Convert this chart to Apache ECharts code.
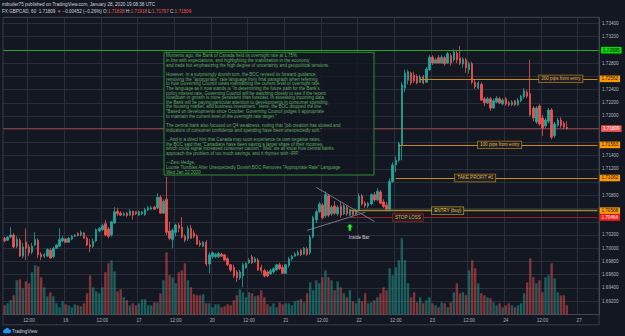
<!DOCTYPE html>
<html><head><meta charset="utf-8">
<script src="https://cdn.jsdelivr.net/npm/echarts/dist/echarts.min.js"></script>
<style>html,body{margin:0;padding:0;background:#131722;}#c{width:625px;height:336px;}</style>
</head><body><div id="c"></div>
<script>
// ---- time slots (hourly, weekend removed) ----
const days = ['15','16','17','20','21','22','23','24','27'];
const firstHour = 4;
const slotCount = 195;

// ---- GBPCAD 1h candles ----
const open = [1.7015,1.7012,1.7017,1.7020,1.7003,1.7012,1.6988,1.7009,1.7002,1.6994,1.7005,1.7012,1.6991,1.6988,1.6988,1.6997,1.6987,1.7000,1.7003,1.7011,1.7014,1.7009,1.7014,1.7018,1.7022,1.7020,1.7023,1.7015,1.7005,1.7003,1.7011,1.7026,1.7028,1.7037,1.7029,1.7020,1.7038,1.7056,1.7053,1.7050,1.7053,1.7050,1.7056,1.7055,1.7050,1.7052,1.7051,1.7058,1.7059,1.7062,1.7061,1.7077,
1.7053,1.7074,1.7026,1.7013,1.7024,1.7035,1.7032,1.7018,1.7014,1.7030,1.7023,1.7018,1.7008,1.7003,1.7009,1.6976,1.6987,1.6987,1.6987,1.6991,1.6990,1.6984,1.6975,1.6971,1.6964,1.6955,1.6958,1.6970,1.6978,1.6987,1.6979,1.6982,1.6971,1.6966,1.6964,1.6961,1.6964,1.6967,1.6975,1.6971,1.6962,1.6974,1.6984,1.6988,1.6990,1.6997,1.6991,1.6999,1.6993,
1.7017,1.7043,1.7055,1.7065,1.7049,1.7079,1.7052,1.7064,1.7052,1.7064,1.7052,1.7062,1.7050,1.7056,1.7052,1.7058,1.7079,1.7068,1.7064,1.7067,1.7081,1.7073,1.7085,1.7070,1.7065,1.7059,1.7101,1.7126,1.7133,1.7156,1.7242,1.7254,1.7265,1.7262,1.7260,1.7251,1.7259,1.7251,1.7270,1.7289,1.7280,1.7288,1.7280,1.7288,1.7280,1.7291,
1.7285,1.7295,1.7288,1.7279,1.7285,1.7270,1.7279,1.7251,1.7242,1.7248,1.7226,1.7220,1.7226,1.7212,1.7221,1.7226,1.7218,1.7226,1.7220,1.7217,1.7223,1.7217,1.7223,1.7229,1.7236,1.7234,1.7212,1.7191,1.7215,1.7197,1.7185,1.7192,1.7209,1.7170,1.7186,1.7194,1.7189,1.71828];
const close = [1.7011,1.7017,1.7020,1.7002,1.7013,1.6988,1.7002,1.7000,1.6993,1.7003,1.7013,1.6990,1.6987,1.6990,1.6998,1.6985,1.7000,1.7005,1.7013,1.7015,1.7009,1.7015,1.7018,1.7020,1.7019,1.7024,1.7015,1.7005,1.7002,1.7011,1.7028,1.7030,1.7034,1.7020,1.7018,1.7040,1.7055,1.7052,1.7050,1.7052,1.7049,1.7056,1.7050,1.7052,1.7055,1.7055,1.7058,1.7061,1.7061,1.7059,1.7077,1.7053,
1.7071,1.7024,1.7015,1.7027,1.7035,1.7030,1.7017,1.7012,1.7030,1.7015,1.7018,1.7006,1.7005,1.7009,1.6976,1.6990,1.6993,1.6991,1.6992,1.6988,1.6982,1.6975,1.6967,1.6958,1.6955,1.6964,1.6975,1.6977,1.6982,1.6978,1.6984,1.6967,1.6966,1.6958,1.6958,1.6966,1.6969,1.6975,1.6969,1.6962,1.6975,1.6984,1.6988,1.6991,1.6994,1.6990,1.7000,1.6991,1.7017,
1.7046,1.7055,1.7067,1.7046,1.7081,1.7050,1.7062,1.7053,1.7062,1.7050,1.7064,1.7052,1.7058,1.7051,1.7057,1.7079,1.7067,1.7064,1.7068,1.7081,1.7073,1.7086,1.7068,1.7063,1.7059,1.7101,1.7126,1.7133,1.7158,1.7247,1.7265,1.7267,1.7250,1.7253,1.7250,1.7259,1.7250,1.7271,1.7289,1.7280,1.7285,1.7280,1.7289,1.7279,1.7294,1.7280,
1.7297,1.7285,1.7280,1.7286,1.7273,1.7279,1.7251,1.7244,1.7250,1.7224,1.7220,1.7226,1.7212,1.7223,1.7227,1.7220,1.7224,1.7218,1.7217,1.7221,1.7217,1.7224,1.7230,1.7238,1.7230,1.7202,1.7197,1.7212,1.7188,1.7182,1.7194,1.7209,1.7168,1.7188,1.7194,1.7185,1.7183,1.71809];
const high = [1.7017,1.7018,1.7032,1.7023,1.7018,1.7015,1.7008,1.7030,1.7006,1.7008,1.7024,1.7015,1.6994,1.6993,1.7000,1.7000,1.7002,1.7006,1.7030,1.7018,1.7015,1.7017,1.7020,1.7021,1.7024,1.7027,1.7024,1.7018,1.7014,1.7015,1.7030,1.7032,1.7037,1.7043,1.7032,1.7041,1.7062,1.7061,1.7056,1.7055,1.7055,1.7059,1.7057,1.7056,1.7057,1.7056,1.7061,1.7064,1.7064,1.7064,1.7083,1.7080,
1.7074,1.7108,1.7040,1.7030,1.7037,1.7038,1.7047,1.7021,1.7034,1.7035,1.7027,1.7021,1.7012,1.7011,1.7012,1.6994,1.6995,1.6993,1.6994,1.6993,1.6991,1.6987,1.6976,1.6975,1.6967,1.6967,1.6978,1.6979,1.6985,1.6990,1.6987,1.6985,1.6975,1.6969,1.6967,1.6969,1.6971,1.6976,1.6978,1.6975,1.6976,1.6987,1.6990,1.6994,1.6997,1.6999,1.7002,1.7002,1.7020,
1.7049,1.7058,1.7070,1.7068,1.7086,1.7082,1.7065,1.7071,1.7065,1.7070,1.7067,1.7065,1.7059,1.7058,1.7059,1.7083,1.7082,1.7071,1.7070,1.7083,1.7085,1.7091,1.7088,1.7074,1.7070,1.7106,1.7130,1.7139,1.7161,1.7251,1.7270,1.7270,1.7267,1.7267,1.7263,1.7262,1.7262,1.7274,1.7292,1.7292,1.7288,1.7292,1.7292,1.7291,1.7297,1.7295,
1.7301,1.7300,1.7306,1.7289,1.7288,1.7282,1.7282,1.7255,1.7253,1.7251,1.7229,1.7229,1.7229,1.7226,1.7230,1.7229,1.7227,1.7229,1.7223,1.7224,1.7224,1.7227,1.7232,1.7242,1.7239,1.7285,1.7215,1.7215,1.7218,1.7202,1.7197,1.7212,1.7212,1.7191,1.7197,1.7198,1.7192,1.71918];
const low = [1.7009,1.7011,1.7015,1.7000,1.7000,1.6987,1.6985,1.6982,1.6988,1.6991,1.7003,1.6985,1.6982,1.6985,1.6987,1.6984,1.6985,1.6999,1.7002,1.7009,1.7008,1.7008,1.7012,1.7017,1.7018,1.7018,1.7014,1.7003,1.6994,1.7000,1.7009,1.7024,1.7026,1.7018,1.7015,1.7017,1.7037,1.7049,1.7049,1.7049,1.7047,1.7049,1.7043,1.7050,1.7049,1.7050,1.7049,1.7056,1.7058,1.7058,1.7059,1.7052,
1.7052,1.7020,1.7012,1.7000,1.7018,1.7024,1.7015,1.7009,1.7011,1.7014,1.7015,1.7005,1.7002,1.7002,1.6973,1.6962,1.6984,1.6985,1.6985,1.6987,1.6981,1.6973,1.6964,1.6955,1.6949,1.6952,1.6941,1.6969,1.6976,1.6976,1.6978,1.6966,1.6962,1.6956,1.6956,1.6960,1.6962,1.6966,1.6967,1.6961,1.6961,1.6971,1.6981,1.6987,1.6988,1.6988,1.6990,1.6988,1.6990,
1.7015,1.7038,1.7053,1.7044,1.7046,1.7047,1.7049,1.7050,1.7049,1.7046,1.7050,1.7049,1.7049,1.7049,1.7050,1.7056,1.7064,1.7061,1.7061,1.7065,1.7070,1.7071,1.7067,1.7061,1.7056,1.7056,1.7099,1.7115,1.7130,1.7133,1.7236,1.7248,1.7247,1.7250,1.7248,1.7250,1.7248,1.7250,1.7268,1.7277,1.7279,1.7279,1.7279,1.7276,1.7279,1.7276,
1.7282,1.7280,1.7277,1.7273,1.7265,1.7264,1.7248,1.7241,1.7241,1.7223,1.7215,1.7218,1.7208,1.7211,1.7220,1.7218,1.7217,1.7215,1.7214,1.7215,1.7215,1.7215,1.7221,1.7226,1.7227,1.7199,1.7192,1.7188,1.7185,1.7170,1.7182,1.7189,1.7165,1.7167,1.7183,1.7182,1.7180,1.71797];
const volume = [9,11,14,19,34,35,26,33,31,42,49,48,37,27,18,22,18,11,7,13,10,9,7,10,9,8,11,21,39,27,23,21,27,42,51,54,43,23,25,17,14,9,11,9,11,15,15,9,9,12,12,21,
34,62,39,37,31,42,44,51,34,27,20,19,19,20,11,11,7,10,10,7,8,10,9,14,19,25,22,17,22,21,18,19,24,17,10,8,11,7,12,10,11,11,9,13,14,15,12,21,32,
24,34,31,37,44,37,34,24,33,27,21,17,24,13,11,16,13,21,11,12,14,17,21,27,24,46,39,47,54,76,54,31,17,22,12,17,11,14,17,11,9,7,12,11,7,12,
22,31,21,22,19,44,54,46,31,21,19,17,16,12,9,11,7,9,11,9,7,9,11,21,32,56,37,31,34,22,37,39,51,36,22,19,19,9];

// ---- price scale ----
const priceMin = 1.690, priceMax = 1.73493, priceStep = 0.002;
const volumeMax = 297;

// ---- drawn levels ----
const greenLevel = 1.72995;
const target200 = 1.72562;
const target100 = 1.71563;
const takeProfit = 1.71062;
const entryPrice = 1.70568;
const stopLoss = 1.70464;
const lastPrice = 1.71809;
const dayChange = -0.00452;
const dayChangePct = -0.26;

const quoteLines = [
'Moments ago, the Bank of Canada held its overnight rate at 1.75%,',
'in line with expectations, and highlighting the stabilization in the economy',
'and trade but emphasizing the high degree of uncertainty and geopolitical tensions.',
'',
'However, in a surprisingly dovish turn, the BOC revised its forward guidance,',
'removing the "appropriate" rate language from final paragraph when referring',
'to how Governing Council views maintaining the current level of overnight rate.',
'The language as it now stands is "In determining the future path for the Bank\'s',
'policy interest rate, Governing Council will be watching closely to see if the recent',
'slowdown in growth is more persistent than forecast. In assessing incoming data,',
'the Bank will be paying particular attention to developments in consumer spending,',
'the housing market, and business investment." Here, the BOC dropped the line',
'"Based on developments since October, Governing Council judges it appropriate',
'to maintain the current level of the overnight rate target."',
'',
'The central bank also focused on Q4 weakness, noting that "job creation has slowed and',
'indicators of consumer confidence and spending have been unexpectedly soft."',
'',
'...And in a direct hint that Canada may soon experience its own negative rates,',
'the BOC said that "Canadians have been saving a larger share of their incomes,',
'which could signal increased consumer caution." Well, we all know how central banks',
'approach the problem of too much savings, and it rhymes with -IRP.',
'',
'\u2014Zero Hedge,',
'Loonie Tumbles After Unexpectedly Dovish BOC Removes "Appropriate Rate" Language',
'Wed Jan 22 2020'
];

// ---------------------------------------------------------
const BG = '#131722', GRID = '#2a2e39', TXT = '#b2b5be', UP = '#26a69a', DOWN = '#ef5350';
const FONT = 'Liberation Sans, Arial, sans-serif';
const FS = 4.6;
const lastIdx = slotCount - 1;
const boxLevels = [greenLevel, target200, target100, takeProfit, entryPrice, stopLoss, lastPrice];

const categories = [];
for (let i = 0; i < slotCount; i++) {
  const h = firstHour + i;
  categories.push(days[Math.floor(h / 24)] + ' ' + String(h % 24).padStart(2, '0') + ':00');
}
const showTick = (idx) => (idx + firstHour) % 12 === 0;
const candleData = open.map((o, i) => [o, close[i], low[i], high[i]]);
const volData = volume.map((v, i) => ({
  value: v,
  itemStyle: { color: close[i] >= open[i] ? 'rgba(38,166,154,0.5)' : 'rgba(239,83,80,0.5)' }
}));

function priceBox(bg, fg, price) {
  return { show: true, position: 'end', distance: 2, formatter: () => price.toFixed(5),
    fontSize: FS, fontFamily: FONT, color: fg, backgroundColor: bg, padding: [1, 2, 0.6, 2], lineHeight: 5 };
}
function ray(startIdx, endIdx, price, color, label, w) {
  return [
    { coord: [startIdx, price], lineStyle: { color: color, width: w || 1, type: 'solid' }, label: label },
    { coord: [endIdx, price] }
  ];
}
function trend(i0, p0, i1, p1) {
  return [
    { coord: [i0, p0], lineStyle: { color: '#8a8e99', width: 0.8, type: 'solid' }, label: { show: false } },
    { coord: [i1, p1] }
  ];
}
function tag(idx, price, text, border, fg) {
  return { coord: [idx, price], symbol: 'rect', symbolSize: 0,
    label: { show: true, position: 'inside', formatter: text, fontSize: FS, fontFamily: FONT, color: fg,
      backgroundColor: '#1c1f26', borderColor: border, borderWidth: 0.8, padding: [1.2, 2, 0.6, 2], lineHeight: 5 } };
}

const lastI = open.length - 1;
const hdrVal = (v) => v.toFixed(5);

const option = {
  backgroundColor: BG,
  animation: false,
  grid: [
    { left: 3, right: 26, top: 17.3, bottom: 21.7 },
    { left: 3, right: 26, top: 17.3, bottom: 21.7 }
  ],
  xAxis: [
    { type: 'category', gridIndex: 0, data: categories, boundaryGap: true,
      axisLine: { show: true, lineStyle: { color: '#434651', width: 1 } },
      axisTick: { show: false },
      axisLabel: { interval: showTick, color: TXT, fontSize: FS, fontFamily: FONT, margin: 3.5,
        formatter: (v) => { const [d, t] = v.split(' '); return t === '00:00' ? d : t; } },
      splitLine: { show: true, interval: showTick, lineStyle: { color: GRID, width: 1 } } },
    { type: 'category', gridIndex: 1, data: categories, boundaryGap: true, show: false }
  ],
  yAxis: [
    { type: 'value', gridIndex: 0, position: 'right', min: priceMin, max: priceMax, interval: priceStep,
      axisLine: { show: true, lineStyle: { color: '#434651' } }, axisTick: { show: false },
      axisLabel: { color: TXT, fontSize: FS, fontFamily: FONT, margin: 3, showMinLabel: false, showMaxLabel: false,
        formatter: (v) => boxLevels.some((l) => Math.abs(l - v) < 0.001) ? '' : v.toFixed(5) },
      splitLine: { show: true, lineStyle: { color: GRID, width: 1 } } },
    { type: 'value', gridIndex: 1, min: 0, max: volumeMax, show: false, splitLine: { show: false } }
  ],
  series: [
    { type: 'bar', name: 'Volume', xAxisIndex: 1, yAxisIndex: 1, data: volData, barWidth: '78%', silent: true },
    { type: 'candlestick', name: 'GBPCAD', xAxisIndex: 0, yAxisIndex: 0, data: candleData, barWidth: '64%',
      itemStyle: { color: UP, color0: DOWN, borderColor: UP, borderColor0: DOWN, borderWidth: 0.8 },
      markLine: {
        silent: true, symbol: ['none', 'none'], animation: false, precision: 5,
        data: [
          { yAxis: greenLevel, lineStyle: { color: '#2aa52a', width: 1, type: 'solid' }, label: priceBox('#00e000', '#000', greenLevel) },
          { yAxis: lastPrice, lineStyle: { color: 'rgba(239,83,80,0.55)', width: 1, type: 'solid' }, label: priceBox('#ef5350', '#fff', lastPrice) },
          ray(136, lastIdx, target200, '#c98a16', priceBox('#ff9800', '#131722', target200)),
          ray(129, lastIdx, target100, '#c98a16', priceBox('#ff9800', '#131722', target100)),
          ray(128, lastIdx, takeProfit, '#c98a16', priceBox('#ff9800', '#131722', takeProfit)),
          ray(113, lastIdx, entryPrice, '#a8862a', priceBox('#ff9800', '#131722', entryPrice), 1.4),
          ray(113, lastIdx, stopLoss, '#9b1c1c', priceBox('#ff1a1a', '#fff', stopLoss)),
          trend(99, 1.70269, 118, 1.70544),
          trend(102, 1.7092, 121, 1.70405)
        ]
      },
      markPoint: {
        silent: true, animation: false,
        data: [
          { coord: [113, 1.70316], symbol: 'path://M5,0 L10,5 L7,5 L7,10 L3,10 L3,5 L0,5 Z', symbolSize: [6, 7],
            itemStyle: { color: '#1ee81e' }, label: { show: false } },
          { coord: [116, 1.70159], symbol: 'rect', symbolSize: 0,
            label: { show: true, position: 'inside', formatter: 'Inside Bar', color: '#d1d4dc', fontSize: FS, fontFamily: FONT } },
          tag(182, target200, '200 pips from entry', '#b07a16', '#e8b04a'),
          tag(162, target100, '100 pips from entry', '#b07a16', '#e8b04a'),
          tag(154, takeProfit, 'TAKE PROFIT #1', '#b07a16', '#e8b04a'),
          tag(145, entryPrice, 'ENTRY (buy)', '#b09a20', '#f0d040'),
          tag(132, stopLoss, 'STOP LOSS', '#9b1c1c', '#e8b04a')
        ]
      }
    }
  ],
  graphic: [
    { type: 'rect', silent: true, z: 100, shape: { x: 3, y: 17.3, width: 596, height: 307.5 },
      style: { fill: 'none', stroke: '#434651', lineWidth: 0.8 } },
    { type: 'text', z: 100, left: 2, top: 2, style: { text: 'mtbutler75 published on TradingView.com, January 28, 2020 19:08:38 UTC',
      fill: '#d1d4dc', fontSize: FS, fontFamily: FONT } },
    { type: 'text', z: 100, left: 2, top: 8.8, style: {
      text: '{w|FX:GBPCAD, 60  ' + hdrVal(close[lastI]) + ' }{r|\u25BC}{w| \u2212' + Math.abs(dayChange).toFixed(5) + ' (\u2212' + Math.abs(dayChangePct).toFixed(2) + '%) O:}{r|' + hdrVal(open[lastI]) + '}{w| H:}{r|' + hdrVal(high[lastI]) + '}{w| L:}{r|' + hdrVal(low[lastI]) + '}{w| C:}{r|' + hdrVal(close[lastI]) + '}',
      rich: { w: { fill: '#d1d4dc', fontSize: FS, fontFamily: FONT }, r: { fill: '#ef5350', fontSize: FS, fontFamily: FONT } } } },
    { type: 'rect', z: 100, silent: true, shape: { x: 164, y: 52.3, width: 210, height: 122.7 },
      style: { fill: 'rgba(19,23,34,0.8)', stroke: '#2a8f2a', lineWidth: 1 } },
    { type: 'text', z: 101, left: 166, top: 53.4, style: { text: quoteLines.join('\n'), fill: '#5fb05f', fontSize: 4.45, lineHeight: 4.66, fontFamily: FONT } },
    { type: 'group', z: 100, left: 3, top: 328, children: [
      { type: 'circle', shape: { cx: 2.2, cy: 3.5, r: 1.8 }, style: { fill: '#2196f3' } },
      { type: 'circle', shape: { cx: 4.6, cy: 2.5, r: 2.4 }, style: { fill: '#2196f3' } },
      { type: 'circle', shape: { cx: 6.8, cy: 3.6, r: 1.7 }, style: { fill: '#2196f3' } },
      { type: 'rect', shape: { x: 2.2, y: 3.4, width: 4.6, height: 1.9 }, style: { fill: '#2196f3' } }
    ] },
    { type: 'text', z: 100, left: 12, top: 328.7, style: { text: 'TradingView', fill: '#d1d4dc', fontSize: FS, fontFamily: FONT } }
  ]
};

const chart = echarts.init(document.getElementById('c'), null, { renderer: 'svg', width: 625, height: 336 });
chart.setOption(option);
</script>
</body></html>
